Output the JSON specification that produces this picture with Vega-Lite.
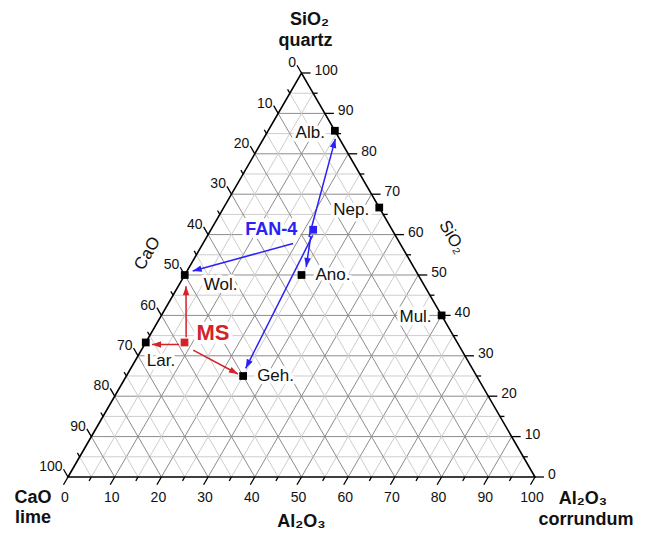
{
  "$schema": "https://vega.github.io/schema/vega-lite/v6.json",
  "width": 467,
  "height": 404,
  "autosize": {"type": "none"},
  "padding": {"left": 68, "top": 73, "right": 110, "bottom": 57},
  "background": "white",
  "config": {"view": {"stroke": null}, "text": {"font": "Liberation Sans", "color": "#111111"}},
  "datasets": {
    "levels": [
      {"v": 0}, {"v": 5}, {"v": 10}, {"v": 15}, {"v": 20}, {"v": 25}, {"v": 30}, {"v": 35}, {"v": 40}, {"v": 45},
      {"v": 50}, {"v": 55}, {"v": 60}, {"v": 65}, {"v": 70}, {"v": 75}, {"v": 80}, {"v": 85}, {"v": 90}, {"v": 95}, {"v": 100}
    ],
    "vertices": [
      {"oxide": "CaO", "mineral": "lime", "CaO": 100, "Al2O3": 0, "SiO2": 0},
      {"oxide": "Al₂O₃", "mineral": "corrundum", "CaO": 0, "Al2O3": 100, "SiO2": 0},
      {"oxide": "SiO₂", "mineral": "quartz", "CaO": 0, "Al2O3": 0, "SiO2": 100}
    ],
    "minerals": [
      {"name": "Alb.", "CaO": 0, "Al2O3": 14.3, "SiO2": 85.7},
      {"name": "Nep.", "CaO": 0, "Al2O3": 33.3, "SiO2": 66.7},
      {"name": "Mul.", "CaO": 0, "Al2O3": 60, "SiO2": 40},
      {"name": "Ano.", "CaO": 25, "Al2O3": 25, "SiO2": 50},
      {"name": "Wol.", "CaO": 50, "Al2O3": 0, "SiO2": 50},
      {"name": "Lar.", "CaO": 66.7, "Al2O3": 0, "SiO2": 33.3},
      {"name": "Geh.", "CaO": 50, "Al2O3": 25, "SiO2": 25}
    ],
    "samples": [
      {"sample": "FAN-4", "CaO": 16.9, "Al2O3": 21.9, "SiO2": 61.2},
      {"sample": "MS", "CaO": 58.4, "Al2O3": 8.3, "SiO2": 33.3}
    ],
    "arrows": [
      {"sample": "FAN-4", "target": "Alb.", "fromAl2O3": 21.9, "fromSiO2": 59.4, "toAl2O3": 15.4, "toSiO2": 83.7},
      {"sample": "FAN-4", "target": "Ano.", "fromAl2O3": 22.2, "fromSiO2": 59.6, "toAl2O3": 25.0, "toSiO2": 52.0},
      {"sample": "FAN-4", "target": "Geh.", "fromAl2O3": 22.5, "fromSiO2": 59.8, "toAl2O3": 24.6, "toSiO2": 26.9},
      {"sample": "FAN-4", "target": "Wol.", "fromAl2O3": 19.3, "fromSiO2": 57.8, "toAl2O3": 1.2, "toSiO2": 51.0},
      {"sample": "MS", "target": "Wol.", "fromAl2O3": 8.0, "fromSiO2": 34.6, "toAl2O3": 1.67, "toSiO2": 47.2},
      {"sample": "MS", "target": "Lar.", "fromAl2O3": 7.4, "fromSiO2": 32.8, "toAl2O3": 1.6, "toSiO2": 32.8},
      {"sample": "MS", "target": "Geh.", "fromAl2O3": 11.1, "fromSiO2": 31.4, "toAl2O3": 23.65, "toSiO2": 25.5}
    ]
  },
  "encoding": {
    "x": {"field": "X", "type": "quantitative", "scale": {"domain": [0, 100], "nice": false, "zero": false}, "axis": null},
    "y": {"field": "Y", "type": "quantitative", "scale": {"domain": [0, 86.6025], "nice": false, "zero": false}, "axis": null}
  },
  "layer": [
    {
      "data": {"name": "levels"},
      "transform": [
        {"filter": "datum.v > 0 && datum.v < 100"},
        {"calculate": "datum.v / 2", "as": "X"},
        {"calculate": "datum.v * 0.8660254", "as": "Y"},
        {"calculate": "100 - datum.v / 2", "as": "X2"},
        {"calculate": "datum.v * 0.8660254", "as": "Y2"}
      ],
      "mark": {"type": "rule", "strokeWidth": 1},
      "encoding": {
        "x2": {"field": "X2"}, "y2": {"field": "Y2"},
        "color": {"condition": {"test": "datum.v % 10 === 0", "value": "#8c8c8c"}, "value": "#cdcdcd"}
      }
    },
    {
      "data": {"name": "levels"},
      "transform": [
        {"filter": "datum.v > 0 && datum.v < 100"},
        {"calculate": "datum.v", "as": "X"},
        {"calculate": "0", "as": "Y"},
        {"calculate": "50 + datum.v / 2", "as": "X2"},
        {"calculate": "(100 - datum.v) * 0.8660254", "as": "Y2"}
      ],
      "mark": {"type": "rule", "strokeWidth": 1},
      "encoding": {
        "x2": {"field": "X2"}, "y2": {"field": "Y2"},
        "color": {"condition": {"test": "datum.v % 10 === 0", "value": "#8c8c8c"}, "value": "#cdcdcd"}
      }
    },
    {
      "data": {"name": "levels"},
      "transform": [
        {"filter": "datum.v > 0 && datum.v < 100"},
        {"calculate": "100 - datum.v", "as": "X"},
        {"calculate": "0", "as": "Y"},
        {"calculate": "(100 - datum.v) / 2", "as": "X2"},
        {"calculate": "(100 - datum.v) * 0.8660254", "as": "Y2"}
      ],
      "mark": {"type": "rule", "strokeWidth": 1},
      "encoding": {
        "x2": {"field": "X2"}, "y2": {"field": "Y2"},
        "color": {"condition": {"test": "datum.v % 10 === 0", "value": "#8c8c8c"}, "value": "#cdcdcd"}
      }
    },
    {
      "data": {"name": "minerals"},
      "transform": [
        {"calculate": "datum.Al2O3 + datum.SiO2 / 2", "as": "X"},
        {"calculate": "datum.SiO2 * 0.8660254", "as": "Y"}
      ],
      "layer": [
        {
          "transform": [{"filter": "indexof(['Alb.','Nep.','Mul.'], datum.name) >= 0"}],
          "layer": [
            {"mark": {"type": "text", "fontSize": 17, "align": "right", "baseline": "middle", "dx": -10, "dy": 2, "fill": "white", "stroke": "white", "strokeWidth": 7, "strokeJoin": "round"}, "encoding": {"text": {"field": "name"}}},
            {"mark": {"type": "text", "fontSize": 17, "align": "right", "baseline": "middle", "dx": -10, "dy": 2}, "encoding": {"text": {"field": "name"}}}
          ]
        },
        {
          "transform": [{"filter": "indexof(['Ano.','Geh.'], datum.name) >= 0"}],
          "layer": [
            {"mark": {"type": "text", "fontSize": 17, "align": "left", "baseline": "middle", "dx": 14, "dy": 0, "fill": "white", "stroke": "white", "strokeWidth": 7, "strokeJoin": "round"}, "encoding": {"text": {"field": "name"}}},
            {"mark": {"type": "text", "fontSize": 17, "align": "left", "baseline": "middle", "dx": 14, "dy": 0}, "encoding": {"text": {"field": "name"}}}
          ]
        },
        {
          "transform": [{"filter": "datum.name === 'Wol.'"}],
          "layer": [
            {"mark": {"type": "text", "fontSize": 17, "align": "left", "baseline": "middle", "dx": 19, "dy": 10, "fill": "white", "stroke": "white", "strokeWidth": 7, "strokeJoin": "round"}, "encoding": {"text": {"field": "name"}}},
            {"mark": {"type": "text", "fontSize": 17, "align": "left", "baseline": "middle", "dx": 19, "dy": 10}, "encoding": {"text": {"field": "name"}}}
          ]
        },
        {
          "transform": [{"filter": "datum.name === 'Lar.'"}],
          "layer": [
            {"mark": {"type": "text", "fontSize": 17, "align": "left", "baseline": "middle", "dx": 1, "dy": 19, "fill": "white", "stroke": "white", "strokeWidth": 7, "strokeJoin": "round"}, "encoding": {"text": {"field": "name"}}},
            {"mark": {"type": "text", "fontSize": 17, "align": "left", "baseline": "middle", "dx": 1, "dy": 19}, "encoding": {"text": {"field": "name"}}}
          ]
        }
      ]
    },
    {
      "data": {"name": "samples"},
      "transform": [
        {"calculate": "datum.Al2O3 + datum.SiO2 / 2", "as": "X"},
        {"calculate": "datum.SiO2 * 0.8660254", "as": "Y"}
      ],
      "layer": [
        {
          "transform": [{"filter": "datum.sample === 'FAN-4'"}],
          "layer": [
            {"mark": {"type": "text", "fontSize": 18, "fontWeight": "bold", "align": "right", "baseline": "middle", "dx": -16, "dy": 0, "fill": "white", "stroke": "white", "strokeWidth": 8, "strokeJoin": "round"}, "encoding": {"text": {"field": "sample"}}},
            {"mark": {"type": "text", "fontSize": 18, "fontWeight": "bold", "align": "right", "baseline": "middle", "dx": -16, "dy": 0, "color": "#2a22f5"}, "encoding": {"text": {"field": "sample"}}}
          ]
        },
        {
          "transform": [{"filter": "datum.sample === 'MS'"}],
          "layer": [
            {"mark": {"type": "text", "fontSize": 22, "fontWeight": "bold", "align": "left", "baseline": "middle", "dx": 12, "dy": -9, "fill": "white", "stroke": "white", "strokeWidth": 8, "strokeJoin": "round"}, "encoding": {"text": {"field": "sample"}}},
            {"mark": {"type": "text", "fontSize": 22, "fontWeight": "bold", "align": "left", "baseline": "middle", "dx": 12, "dy": -9, "color": "#d2232a"}, "encoding": {"text": {"field": "sample"}}}
          ]
        }
      ]
    },
    {
      "data": {"name": "vertices"},
      "transform": [
        {"calculate": "datum.Al2O3 + datum.SiO2 / 2", "as": "X"},
        {"calculate": "datum.SiO2 * 0.8660254", "as": "Y"}
      ],
      "layer": [
        {"mark": {"type": "line", "interpolate": "linear-closed", "color": "black", "strokeWidth": 1.6}, "encoding": {}},
        {
          "transform": [{"filter": "datum.mineral === 'lime'"}],
          "layer": [
            {"mark": {"type": "text", "fontSize": 18, "fontWeight": "bold", "align": "center", "baseline": "alphabetic", "dx": -35, "dy": 26}, "encoding": {"text": {"field": "oxide"}}},
            {"mark": {"type": "text", "fontSize": 18, "fontWeight": "bold", "align": "center", "baseline": "alphabetic", "dx": -35, "dy": 46}, "encoding": {"text": {"field": "mineral"}}}
          ]
        },
        {
          "transform": [{"filter": "datum.mineral === 'corrundum'"}],
          "layer": [
            {"mark": {"type": "text", "fontSize": 18, "fontWeight": "bold", "align": "center", "baseline": "alphabetic", "dx": 48, "dy": 27}, "encoding": {"text": {"field": "oxide"}}},
            {"mark": {"type": "text", "fontSize": 18, "fontWeight": "bold", "align": "center", "baseline": "alphabetic", "dx": 51, "dy": 48}, "encoding": {"text": {"field": "mineral"}}}
          ]
        },
        {
          "transform": [{"filter": "datum.mineral === 'quartz'"}],
          "layer": [
            {"mark": {"type": "text", "fontSize": 18, "fontWeight": "bold", "align": "center", "baseline": "alphabetic", "dx": 8, "dy": -48}, "encoding": {"text": {"field": "oxide"}}},
            {"mark": {"type": "text", "fontSize": 18, "fontWeight": "bold", "align": "center", "baseline": "alphabetic", "dx": 4, "dy": -27}, "encoding": {"text": {"field": "mineral"}}}
          ]
        }
      ]
    },
    {
      "data": {"name": "levels"},
      "transform": [
        {"calculate": "datum.v % 10 === 0 ? 1.93 : 0.96", "as": "L"},
        {"calculate": "100 - datum.v / 2", "as": "X"},
        {"calculate": "datum.v * 0.8660254", "as": "Y"},
        {"calculate": "datum.X + datum.L", "as": "X2"},
        {"calculate": "datum.Y", "as": "Y2"}
      ],
      "layer": [
        {"mark": {"type": "rule", "color": "black", "strokeWidth": 1.3}, "encoding": {"x2": {"field": "X2"}, "y2": {"field": "Y2"}}},
        {
          "transform": [{"filter": "datum.v % 10 === 0"}, {"calculate": "datum.X2", "as": "X"}],
          "mark": {"type": "text", "fontSize": 14, "align": "left", "baseline": "middle", "dx": 4, "dy": -2},
          "encoding": {"text": {"field": "v", "type": "quantitative"}}
        },
        {
          "transform": [{"filter": "datum.v === 50"}],
          "mark": {"type": "text", "fontSize": 17, "align": "center", "baseline": "middle", "angle": 60, "dx": -16, "dy": -48},
          "encoding": {"text": {"value": "SiO₂"}}
        }
      ]
    },
    {
      "data": {"name": "levels"},
      "transform": [
        {"calculate": "datum.v % 10 === 0 ? 1.93 : 0.96", "as": "L"},
        {"calculate": "datum.v", "as": "X"},
        {"calculate": "0", "as": "Y"},
        {"calculate": "datum.X - 0.5 * datum.L", "as": "X2"},
        {"calculate": "-0.8660254 * datum.L", "as": "Y2"}
      ],
      "layer": [
        {"mark": {"type": "rule", "color": "black", "strokeWidth": 1.3}, "encoding": {"x2": {"field": "X2"}, "y2": {"field": "Y2"}}},
        {
          "transform": [{"filter": "datum.v % 10 === 0"}, {"calculate": "datum.X2", "as": "X"}, {"calculate": "datum.Y2", "as": "Y"}],
          "mark": {"type": "text", "fontSize": 14, "align": "center", "baseline": "middle", "dx": 1.5, "dy": 13},
          "encoding": {"text": {"field": "v", "type": "quantitative"}}
        },
        {
          "transform": [{"filter": "datum.v === 50"}],
          "mark": {"type": "text", "fontSize": 18, "fontWeight": "bold", "align": "center", "baseline": "alphabetic", "dy": 50},
          "encoding": {"text": {"value": "Al₂O₃"}}
        }
      ]
    },
    {
      "data": {"name": "levels"},
      "transform": [
        {"calculate": "datum.v % 10 === 0 ? 1.93 : 0.96", "as": "L"},
        {"calculate": "(100 - datum.v) / 2", "as": "X"},
        {"calculate": "(100 - datum.v) * 0.8660254", "as": "Y"},
        {"calculate": "datum.X - 0.5 * datum.L", "as": "X2"},
        {"calculate": "datum.Y + 0.8660254 * datum.L", "as": "Y2"}
      ],
      "layer": [
        {"mark": {"type": "rule", "color": "black", "strokeWidth": 1.3}, "encoding": {"x2": {"field": "X2"}, "y2": {"field": "Y2"}}},
        {
          "transform": [{"filter": "datum.v % 10 === 0"}, {"calculate": "datum.X2", "as": "X"}, {"calculate": "datum.Y2", "as": "Y"}],
          "mark": {"type": "text", "fontSize": 14, "align": "right", "baseline": "middle", "dx": -1, "dy": -2},
          "encoding": {"text": {"field": "v", "type": "quantitative"}}
        },
        {
          "transform": [{"filter": "datum.v === 50"}],
          "mark": {"type": "text", "fontSize": 17, "align": "center", "baseline": "middle", "angle": -60, "dx": 0, "dy": -43},
          "encoding": {"text": {"value": "CaO"}}
        }
      ]
    },
    {
      "data": {"name": "arrows"},
      "transform": [
        {"calculate": "datum.fromAl2O3 + datum.fromSiO2 / 2", "as": "Xf"},
        {"calculate": "datum.fromSiO2 * 0.8660254", "as": "Yf"},
        {"calculate": "datum.toAl2O3 + datum.toSiO2 / 2", "as": "Xt"},
        {"calculate": "datum.toSiO2 * 0.8660254", "as": "Yt"}
      ],
      "encoding": {
        "color": {"field": "sample", "type": "nominal", "scale": {"domain": ["FAN-4", "MS"], "range": ["#2a22f5", "#d2232a"]}, "legend": null}
      },
      "layer": [
        {
          "transform": [{"calculate": "datum.Xf", "as": "X"}, {"calculate": "datum.Yf", "as": "Y"}],
          "mark": {"type": "rule", "strokeWidth": 1.5},
          "encoding": {"x2": {"field": "Xt"}, "y2": {"field": "Yt"}}
        },
        {
          "transform": [
            {"calculate": "datum.Xt", "as": "X"},
            {"calculate": "datum.Yt", "as": "Y"},
            {"calculate": "atan2(datum.Xt - datum.Xf, datum.Yt - datum.Yf) * 180 / PI", "as": "ang"}
          ],
          "mark": {"type": "point", "shape": "M0,0L0.36,1L-0.36,1Z", "filled": true, "opacity": 1, "size": 324, "strokeWidth": 0},
          "encoding": {"angle": {"field": "ang", "type": "quantitative", "scale": null}}
        }
      ]
    },
    {
      "data": {"name": "minerals"},
      "transform": [
        {"calculate": "datum.Al2O3 + datum.SiO2 / 2", "as": "X"},
        {"calculate": "datum.SiO2 * 0.8660254", "as": "Y"}
      ],
      "mark": {"type": "point", "shape": "square", "filled": true, "opacity": 1, "size": 60, "color": "black"}
    },
    {
      "data": {"name": "samples"},
      "transform": [
        {"calculate": "datum.Al2O3 + datum.SiO2 / 2", "as": "X"},
        {"calculate": "datum.SiO2 * 0.8660254", "as": "Y"}
      ],
      "mark": {"type": "point", "shape": "square", "filled": true, "opacity": 1, "size": 60},
      "encoding": {
        "color": {"field": "sample", "type": "nominal", "scale": {"domain": ["FAN-4", "MS"], "range": ["#2a22f5", "#d2232a"]}, "legend": null}
      }
    }
  ]
}
